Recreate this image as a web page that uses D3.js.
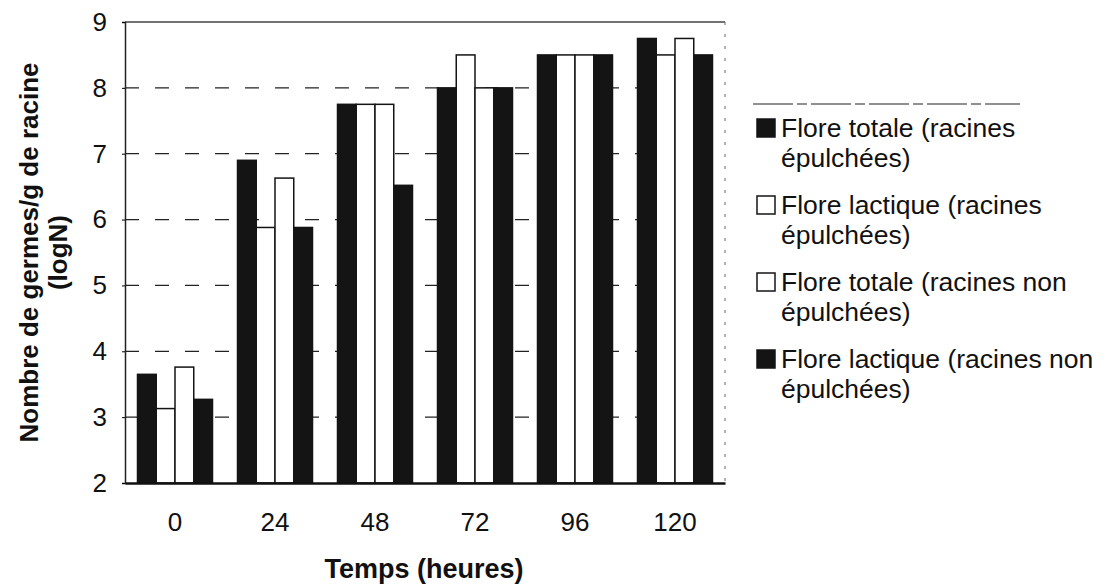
<!DOCTYPE html>
<html>
<head>
<meta charset="utf-8">
<script src="https://cdn.jsdelivr.net/npm/d3@7"></script>
<style>
  body { margin: 0; background: #fff; }
  svg { font-family: "Liberation Sans", Arial, sans-serif; }
</style>
</head>
<body>
<div id="chart"></div>
<script>
const hours = ['0', '24', '48', '72', '96', '120'];
const seriesNames = [
  ['Flore totale (racines', 'épulchées)'],
  ['Flore lactique (racines', 'épulchées)'],
  ['Flore totale (racines non', 'épulchées)'],
  ['Flore lactique (racines non', 'épulchées)']
];
const seriesFill = ['#141414', '#fff', '#fff', '#141414'];
const totalePeeled = [3.65, 6.9, 7.75, 8.0, 8.5, 8.75];
const lactiquePeeled = [3.13, 5.88, 7.75, 8.5, 8.5, 8.5];
const totaleUnpeeled = [3.76, 6.63, 7.75, 8.0, 8.5, 8.75];
const lactiqueUnpeeled = [3.27, 5.88, 6.52, 8.0, 8.5, 8.5];
const yTicks = [2, 3, 4, 5, 6, 7, 8, 9];

const allSeries = [totalePeeled, lactiquePeeled, totaleUnpeeled, lactiqueUnpeeled];

const width = 1109, height = 585;
const plotL = 125, plotR = 725, plotT = 22, plotB = 483;

const svg = d3.select('#chart').append('svg')
  .attr('width', width).attr('height', height);

const x0 = d3.scaleBand().domain(hours).range([plotL, plotR])
  .paddingInner(0.25).paddingOuter(0.125);
const x1 = d3.scaleBand().domain(d3.range(4)).range([0, x0.bandwidth()]);
const y = d3.scaleLinear().domain([2, 9]).range([plotB, plotT]);

// gridlines
svg.append('g')
  .selectAll('line')
  .data(yTicks.filter(t => t > 2 && t < 9))
  .join('line')
  .attr('x1', plotL).attr('x2', plotR)
  .attr('y1', d => y(d)).attr('y2', d => y(d))
  .attr('stroke', '#222').attr('stroke-width', 1.2)
  .attr('stroke-dasharray', '14,16');

// plot frame
svg.append('line').attr('x1', plotL).attr('x2', plotR).attr('y1', plotT).attr('y2', plotT)
  .attr('stroke', '#444').attr('stroke-width', 1.5);
svg.append('line').attr('x1', plotR).attr('x2', plotR).attr('y1', plotT).attr('y2', plotB)
  .attr('stroke', '#666').attr('stroke-width', 1).attr('stroke-dasharray', '3,9');

// bars
const groups = svg.append('g')
  .selectAll('g')
  .data(hours)
  .join('g')
  .attr('transform', d => `translate(${x0(d)},0)`);

groups.selectAll('rect')
  .data((d, i) => allSeries.map((s, k) => ({ k, v: s[i] })))
  .join('rect')
  .attr('x', d => x1(d.k))
  .attr('y', d => y(d.v))
  .attr('width', x1.bandwidth())
  .attr('height', d => y(2) - y(d.v))
  .attr('fill', d => seriesFill[d.k])
  .attr('stroke', '#141414')
  .attr('stroke-width', 1.5);

// axes
const yAxis = svg.append('g')
  .attr('transform', `translate(${plotL},0)`)
  .call(d3.axisLeft(y).tickValues(yTicks).tickFormat(d3.format('d')).tickSize(3).tickPadding(15));
yAxis.select('.domain').attr('stroke', '#222').attr('stroke-width', 1.5);
yAxis.selectAll('text').attr('font-size', 26).attr('fill', '#111')
  .attr('font-family', '"Liberation Sans", Arial, sans-serif');

const xAxis = svg.append('g')
  .attr('transform', `translate(0,${plotB})`)
  .call(d3.axisBottom(x0).tickSize(0).tickPadding(30));
xAxis.select('.domain').attr('stroke', '#111').attr('stroke-width', 2.5);
xAxis.selectAll('text').attr('font-size', 26).attr('fill', '#111')
  .attr('font-family', '"Liberation Sans", Arial, sans-serif');

// axis titles
svg.append('text')
  .attr('x', 424).attr('y', 578)
  .attr('text-anchor', 'middle')
  .attr('font-size', 27).attr('font-weight', 'bold').attr('fill', '#111')
  .text('Temps (heures)');

const yTitle = svg.append('text')
  .attr('transform', `translate(38,${(plotT + plotB) / 2}) rotate(-90)`)
  .attr('text-anchor', 'middle')
  .attr('font-size', 26).attr('font-weight', 'bold').attr('fill', '#111');
yTitle.append('tspan').attr('x', 0).attr('dy', 0).text('Nombre de germes/g de racine');
yTitle.append('tspan').attr('x', 0).attr('dy', 29).text('(logN)');

// legend
svg.append('line').attr('x1', 753).attr('x2', 1020).attr('y1', 104).attr('y2', 104)
  .attr('stroke', '#222').attr('stroke-width', 1.2).attr('stroke-dasharray', '40,4,10,4');

const legend = svg.append('g')
  .selectAll('g')
  .data(seriesNames)
  .join('g')
  .attr('transform', (d, i) => `translate(757,${137 + i * 77})`);

legend.append('rect')
  .attr('x', 0).attr('y', -18).attr('width', 18).attr('height', 18)
  .attr('fill', (d, i) => seriesFill[i])
  .attr('stroke', '#141414').attr('stroke-width', 1.5);

legend.append('text')
  .attr('font-size', 26.5).attr('fill', '#111')
  .selectAll('tspan')
  .data(d => d)
  .join('tspan')
  .attr('x', 24)
  .attr('y', (d, i) => i * 30)
  .text(d => d);
</script>
</body>
</html>
